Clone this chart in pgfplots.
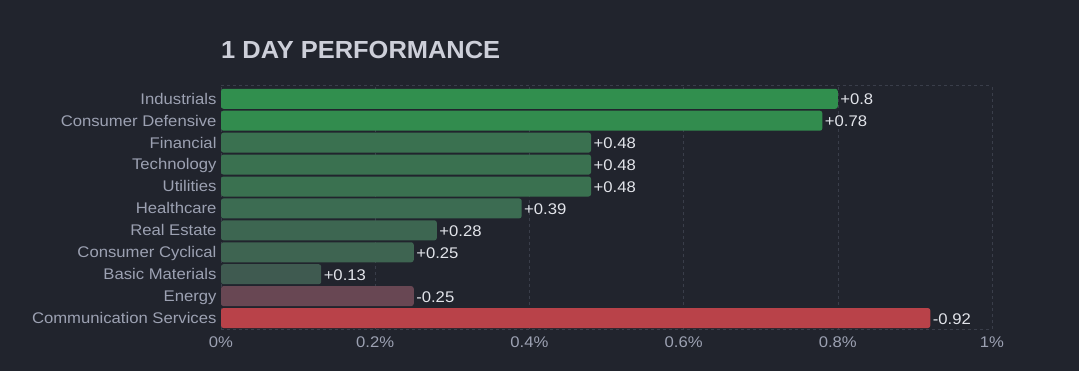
\documentclass[border=0pt]{standalone}
\usepackage{pgfplots}
\pgfplotsset{compat=1.18}
\usepackage{fontspec}
\setmainfont{Liberation Sans}
\newfontfamily\widesans[FakeStretch=1.08]{Liberation Sans}
\newfontfamily\titlesans[FakeStretch=1.03]{Liberation Sans}
\definecolor{bg}{HTML}{21242D}
\definecolor{gridc}{HTML}{3A3E4A}
\definecolor{ticktext}{HTML}{9CA1B2}
\definecolor{valtext}{HTML}{E2E4EA}
\definecolor{titletext}{HTML}{CDCFD9}
\definecolor{cA}{HTML}{318F4E}
\definecolor{cB}{HTML}{328C4E}
\definecolor{cC}{HTML}{3A7150}
\definecolor{cD}{HTML}{3C6C52}
\definecolor{cE}{HTML}{3D6651}
\definecolor{cF}{HTML}{3E6451}
\definecolor{cG}{HTML}{3F5A50}
\definecolor{cH}{HTML}{684753}
\definecolor{cI}{HTML}{B94249}
\begin{document}
\begin{tikzpicture}
\fill[bg] (0,0) rectangle (1079bp,371bp);
\node[anchor=west, text=titletext, font=\titlesans\fontsize{24.8}{28}\selectfont\bfseries, inner sep=0pt] at (221bp,321bp) {1 DAY PERFORMANCE};
\begin{axis}[
  at={(221bp,42bp)}, anchor=south west,
  scale only axis, width=771bp, height=244bp,
  xmin=0, xmax=1, ymin=-0.5, ymax=10.63,
  xbar, bar shift=0pt, bar width=20bp,
  separate axis lines,
  x axis line style={draw=gridc, dashed, line width=0.6bp},
  y axis line style={draw=none},
  xtick={0,0.2,0.4,0.6,0.8,1},
  xticklabels={0\%,0.2\%,0.4\%,0.6\%,0.8\%,1\%},
  xmajorgrids, grid style={draw=gridc, dashed, line width=0.6bp},
  ytick={0,1,2,3,4,5,6,7,8,9,10},
  yticklabels={Communication Services,Energy,Basic Materials,Consumer Cyclical,Real Estate,Healthcare,Utilities,Technology,Financial,Consumer Defensive,Industrials},
  major tick length=0pt,
  typeset ticklabels with strut,
  tick label style={text=ticktext, font=\widesans\fontsize{15.5}{18}\selectfont},
  yticklabel style={xshift=-1bp, yshift=-1.8bp},
  xticklabel style={yshift=-2.5bp},
  point meta=explicit symbolic,
  nodes near coords,
  nodes near coords style={text=valtext, font=\widesans\fontsize{15.5}{18}\selectfont, anchor=west, xshift=-1bp, yshift=-0.8bp},
  every axis plot/.append style={draw=none, rounded corners=2.5bp},
]
\addplot[fill=cA] coordinates {(0.80,10) [+0.8]};
\addplot[fill=cB] coordinates {(0.78,9) [+0.78]};
\addplot[fill=cC] coordinates {(0.48,8) [+0.48]};
\addplot[fill=cC] coordinates {(0.48,7) [+0.48]};
\addplot[fill=cC] coordinates {(0.48,6) [+0.48]};
\addplot[fill=cD] coordinates {(0.39,5) [+0.39]};
\addplot[fill=cE] coordinates {(0.28,4) [+0.28]};
\addplot[fill=cF] coordinates {(0.25,3) [+0.25]};
\addplot[fill=cG] coordinates {(0.13,2) [+0.13]};
\addplot[fill=cH] coordinates {(0.25,1) [-0.25]};
\addplot[fill=cI] coordinates {(0.92,0) [-0.92]};
\end{axis}
\end{tikzpicture}
\end{document}
